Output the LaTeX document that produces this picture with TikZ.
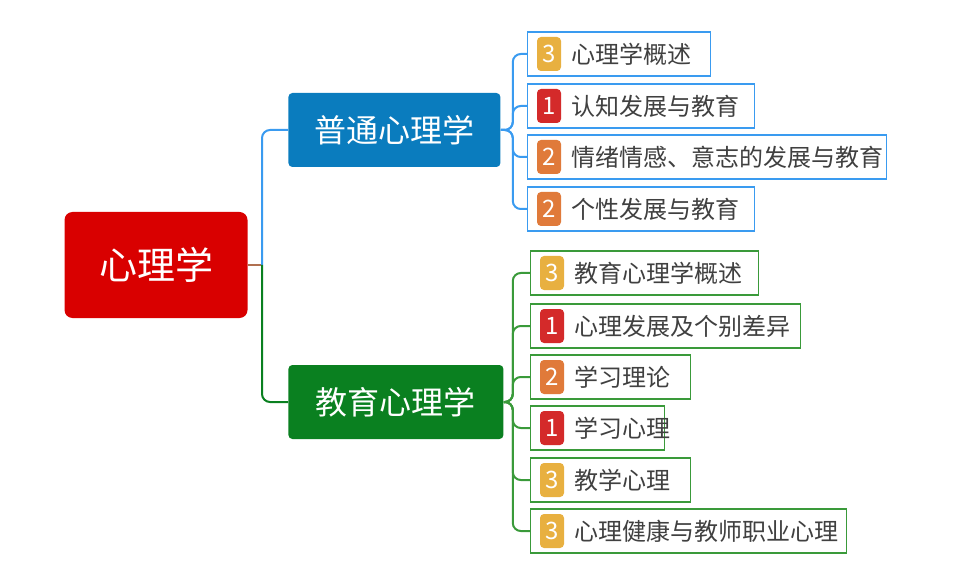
\documentclass[tikz,border=0pt]{standalone}
\usepackage{fontspec}
\setmainfont{Noto Sans CJK SC}
\usetikzlibrary{positioning}
\definecolor{rootred}{HTML}{D90000}
\definecolor{midblue}{HTML}{0A7CBE}
\definecolor{midgreen}{HTML}{0A8020}
\definecolor{boxblue}{HTML}{3A9BF0}
\definecolor{boxgreen}{HTML}{3A9A3A}
\definecolor{bthree}{HTML}{E8B040}
\definecolor{bone}{HTML}{D42A2A}
\definecolor{btwo}{HTML}{E07A3A}
\definecolor{linkbrown}{HTML}{B07050}
\tikzset{
  root/.style={rectangle, rounded corners=4pt, fill=rootred, text=white, font=\fontsize{19}{19}\selectfont, minimum width=91.5pt, minimum height=53pt},
  mid/.style={rectangle, rounded corners=2pt, text=white, font=\fontsize{16}{16}\selectfont, minimum height=37pt, anchor=west},
  leaf/.style={rectangle, draw=#1, line width=0.6pt, fill=white, minimum height=22pt, anchor=west, inner sep=0pt},
  badge/.style={rectangle, rounded corners=2pt, fill=#1, text=white, font=\fontsize{12}{12}\selectfont, minimum width=12pt, minimum height=17pt, inner sep=0pt},
  txt/.style={font=\fontsize{12}{12}\selectfont, text=black!75, anchor=west, inner sep=0pt},
  link/.style={line width=1pt, rounded corners=4pt},
}
\newcommand{\leafbox}[7]{% name, left x, y, right x, colour, badge colour, number, text
  \node[leaf=#5, minimum width=(#4-#2)*0.5pt] (#1) at (#2,#3) {};
  \node[badge=#6] (#1b) at (#2+22,#3) {#7};
}
\begin{document}
\begin{tikzpicture}[x=0.5pt,y=-0.5pt]
\useasboundingbox (0,0) rectangle (972,571);
% main nodes
\node[root] (psy) at (156,265) {心理学};
\node[mid, fill=midblue, minimum width=106pt] (gen) at (288,130) {普通心理学};
\node[mid, fill=midgreen, minimum width=107.5pt] (edu) at (288,402) {教育心理学};
\coordinate (fork) at (262,265);
\draw[linkbrown, line width=1pt] (psy.east) -- (fork);
\draw[link, boxblue] (fork) |- (gen.west);
\draw[link, midgreen] (fork) |- (edu.west);
% general psychology
\foreach \n/\y/\r/\c/\k/\t in {g1/54/710/bthree/3/心理学概述, g2/106/754/bone/1/认知发展与教育, g3/157/886/btwo/2/情绪情感、意志的发展与教育, g4/209/754/btwo/2/个性发展与教育}{
  \node[leaf=boxblue, minimum width=(\r-527)*0.5pt] (\n) at (527,\y) {};
  \node[badge=\c] (\n b) at (549,\y) {\k};
  \node[txt, right=5pt of \n b] {\t};
  \draw[link, boxblue] (gen.east) -- ++(12,0) |- (\n.west);
}
% educational psychology
\foreach \n/\y/\r/\c/\k/\t in {e1/273/758/bthree/3/教育心理学概述, e2/326/800/bone/1/心理发展及个别差异, e3/377/690/btwo/2/学习理论, e4/428/664/bone/1/学习心理, e5/480/690/bthree/3/教学心理, e6/531/846/bthree/3/心理健康与教师职业心理}{
  \node[leaf=boxgreen, minimum width=(\r-530)*0.5pt] (\n) at (530,\y) {};
  \node[badge=\c] (\n b) at (552,\y) {\k};
  \node[txt, right=5pt of \n b] {\t};
  \draw[link, boxgreen] (edu.east) -- ++(9,0) |- (\n.west);
}
\end{tikzpicture}
\end{document}
